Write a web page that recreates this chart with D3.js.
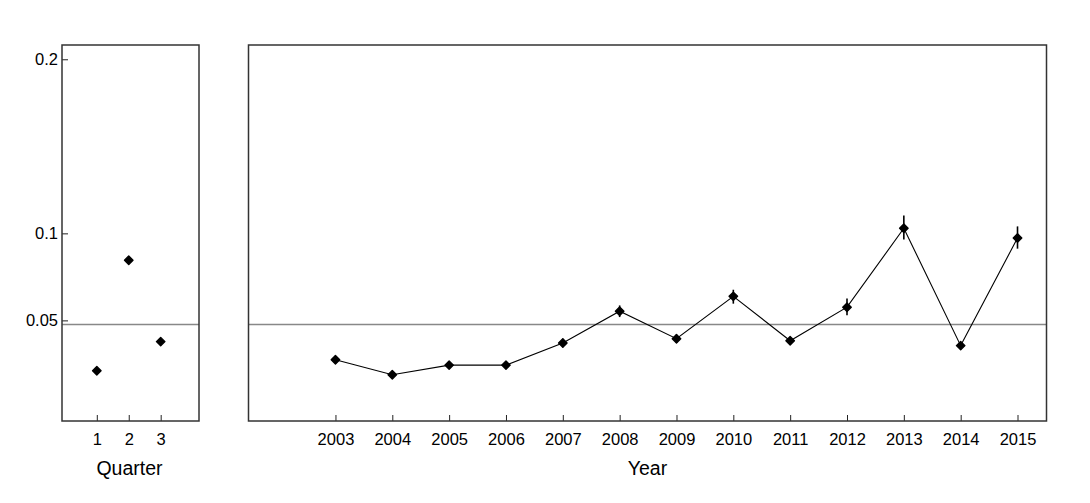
<!DOCTYPE html>
<html>
<head>
<meta charset="utf-8">
<script src="https://cdn.jsdelivr.net/npm/d3@7"></script>
<style>
  body { margin: 0; background: #fff; }
  svg text { font-family: "Liberation Sans", Arial, sans-serif; fill: #000; }
</style>
</head>
<body>
<div id="chart"></div>
<script>
// quarter panel
const quarters = [1, 2, 3];
const quarterVals = [0.0211, 0.0845, 0.0378];

// year panel
const years = [2003, 2004, 2005, 2006, 2007, 2008, 2009, 2010, 2011, 2012, 2013, 2014, 2015];
const yearVals = [0.0274, 0.0188, 0.0243, 0.0243, 0.0370, 0.0553, 0.0395, 0.0638, 0.0383, 0.0576, 0.1029, 0.0355, 0.0973];
const yearLow  = [0.0255, 0.0172, 0.0226, 0.0226, 0.0345, 0.0519, 0.0372, 0.0596, 0.0362, 0.0529, 0.0964, 0.0335, 0.0912];
const yearHigh = [0.0293, 0.0204, 0.0260, 0.0260, 0.0395, 0.0586, 0.0418, 0.0676, 0.0404, 0.0626, 0.1103, 0.0375, 0.1040];

const refLine = 0.0477;
const yTicks = [0.05, 0.1, 0.2];

const width = 1090, height = 503;
const plotTop = 45, plotBottom = 421;

const svg = d3.select("#chart").append("svg")
  .attr("width", width)
  .attr("height", height);

// linear y, shared by both panels
const y = d3.scaleLinear().domain([-0.0078, 0.2082]).range([plotBottom, plotTop]);

const xq = d3.scaleLinear().domain([-0.09, 4.2]).range([62, 199]);
const xy = d3.scaleLinear().domain([2001.47, 2015.51]).range([248.5, 1046.5]);

function marker(g, pts) {
  g.selectAll("path.pt")
    .data(pts)
    .join("path")
    .attr("class", "pt")
    .attr("d", d3.symbol(d3.symbolSquare, 36))
    .attr("transform", d => `translate(${d[0]},${d[1]}) rotate(45)`)
    .attr("fill", "#000")
    .attr("stroke", "#000")
    .attr("stroke-width", 1.4)
    .attr("stroke-linejoin", "round");
}

// ---- left panel ----
const gq = svg.append("g");

gq.append("line")
  .attr("x1", xq.range()[0]).attr("x2", xq.range()[1])
  .attr("y1", y(refLine)).attr("y2", y(refLine))
  .attr("stroke", "#888").attr("stroke-width", 1.5);

const axL = gq.append("g")
  .attr("transform", `translate(${xq.range()[0]},0)`)
  .call(d3.axisRight(y).tickValues(yTicks).tickSize(6).tickFormat(d3.format("")));
axL.select(".domain").remove();
axL.selectAll("line").attr("stroke", "#222");
axL.selectAll("text")
  .attr("x", -4).attr("text-anchor", "end")
  .style("font-size", "16.5px");

const axQ = gq.append("g")
  .attr("transform", `translate(0,${plotBottom})`)
  .call(d3.axisTop(xq).tickValues(quarters).tickSize(6).tickFormat(d3.format("d")));
axQ.select(".domain").remove();
axQ.selectAll("line").attr("stroke", "#222");
axQ.selectAll("text")
  .attr("y", 24).attr("dy", 0)
  .style("font-size", "16.5px");

marker(gq, quarters.map((q, i) => [xq(q), y(quarterVals[i])]));

gq.append("rect")
  .attr("x", xq.range()[0]).attr("y", plotTop)
  .attr("width", xq.range()[1] - xq.range()[0]).attr("height", plotBottom - plotTop)
  .attr("fill", "none").attr("stroke", "#333").attr("stroke-width", 1.5);

gq.append("text")
  .attr("x", (xq.range()[0] + xq.range()[1]) / 2 - 1)
  .attr("y", 475)
  .attr("text-anchor", "middle")
  .style("font-size", "19.5px")
  .text("Quarter");

// ---- right panel ----
const gy = svg.append("g");

gy.append("line")
  .attr("x1", xy.range()[0]).attr("x2", xy.range()[1])
  .attr("y1", y(refLine)).attr("y2", y(refLine))
  .attr("stroke", "#888").attr("stroke-width", 1.5);

const axY = gy.append("g")
  .attr("transform", `translate(0,${plotBottom})`)
  .call(d3.axisTop(xy).tickValues(years).tickSize(6).tickFormat(d3.format("d")));
axY.select(".domain").remove();
axY.selectAll("line").attr("stroke", "#222");
axY.selectAll("text")
  .attr("y", 24).attr("dy", 0)
  .style("font-size", "16.5px");

// error bars
gy.selectAll("line.err")
  .data(years)
  .join("line")
  .attr("class", "err")
  .attr("x1", d => xy(d)).attr("x2", d => xy(d))
  .attr("y1", (d, i) => y(yearLow[i]))
  .attr("y2", (d, i) => y(yearHigh[i]))
  .attr("stroke", "#000").attr("stroke-width", 1.6);

const line = d3.line()
  .x((d, i) => xy(years[i]))
  .y(d => y(d));

gy.append("path")
  .datum(yearVals)
  .attr("d", line)
  .attr("fill", "none")
  .attr("stroke", "#000")
  .attr("stroke-width", 1.1);

marker(gy, years.map((yr, i) => [xy(yr), y(yearVals[i])]));

gy.append("rect")
  .attr("x", xy.range()[0]).attr("y", plotTop)
  .attr("width", xy.range()[1] - xy.range()[0]).attr("height", plotBottom - plotTop)
  .attr("fill", "none").attr("stroke", "#333").attr("stroke-width", 1.5);

gy.append("text")
  .attr("x", (xy.range()[0] + xy.range()[1]) / 2)
  .attr("y", 475)
  .attr("text-anchor", "middle")
  .style("font-size", "19.5px")
  .text("Year");
</script>
</body>
</html>
